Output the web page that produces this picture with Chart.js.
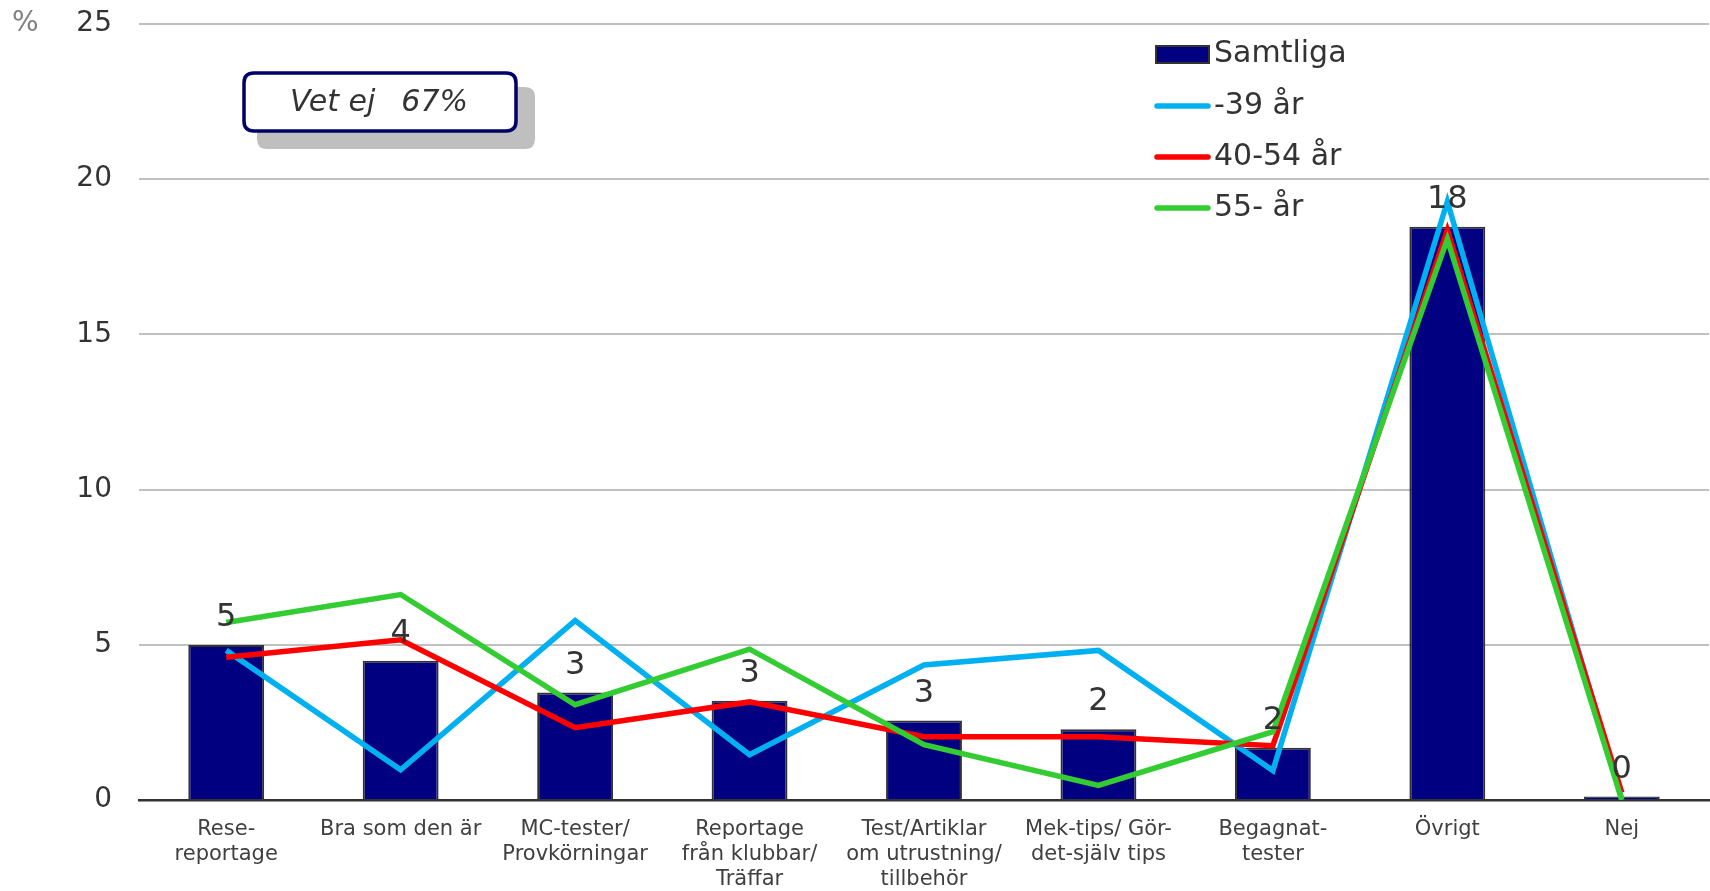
<!DOCTYPE html>
<html>
<head>
<meta charset="utf-8">
<script src="https://cdn.jsdelivr.net/npm/chart.js@4.4.1/dist/chart.umd.min.js"></script>
<style>
  html, body { margin: 0; padding: 0; background: #ffffff; }
  #wrap { width: 1710px; height: 891px; position: relative; }
</style>
</head>
<body>
<div id="wrap"><canvas id="c" width="1710" height="891"></canvas></div>
<script>
const categories = [
  ["Rese-", "reportage"],
  ["Bra som den är"],
  ["MC-tester/", "Provkörningar"],
  ["Reportage", "från klubbar/", "Träffar"],
  ["Test/Artiklar", "om utrustning/", "tillbehör"],
  ["Mek-tips/ Gör-", "det-själv tips"],
  ["Begagnat-", "tester"],
  ["Övrigt"],
  ["Nej"]
];
const samtliga = [4.99, 4.49, 3.46, 3.2, 2.56, 2.28, 1.68, 18.47, 0.11];
const age39 = [4.82, 0.97, 5.78, 1.46, 4.35, 4.82, 0.95, 19.28, 0.03];
const age40_54 = [4.6, 5.16, 2.33, 3.16, 2.04, 2.04, 1.75, 18.36, 0.24];
const age55 = [5.72, 6.62, 3.07, 4.86, 1.78, 0.47, 2.2, 18.07, 0.0];
const seriesNames = ["Samtliga", "-39 år", "40-54 år", "55- år"];
const yTicks = [0, 5, 10, 15, 20, 25];
const noteLabel = "Vet ej";
const noteValue = "67%";

const FONT = "'DejaVu Sans', Verdana, sans-serif";
const colors = { bar: "#000080", barBorder: "#333333", blue: "#00b0f0", red: "#ff0000", green: "#33cc33" };

const overlay = {
  id: "overlay",
  afterDatasetsDraw(chart) {
    const ctx = chart.ctx;
    const meta = chart.getDatasetMeta(0);
    ctx.save();
    ctx.fillStyle = "#333333";
    ctx.font = "32px " + FONT;
    ctx.textAlign = "center";
    ctx.textBaseline = "alphabetic";
    meta.data.forEach((el, i) => {
      ctx.fillText(String(Math.round(samtliga[i])), el.x, el.y - 19);
    });
    ctx.restore();
  },
  afterDraw(chart) {
    const ctx = chart.ctx;
    ctx.save();
    ctx.fillStyle = "#808080";
    ctx.font = "28px " + FONT;
    ctx.textAlign = "left";
    ctx.textBaseline = "middle";
    ctx.fillText("%", 12, chart.scales.y.getPixelForValue(25));

    function rr(x, y, w, h, r) {
      ctx.beginPath();
      ctx.moveTo(x + r, y);
      ctx.lineTo(x + w - r, y);
      ctx.quadraticCurveTo(x + w, y, x + w, y + r);
      ctx.lineTo(x + w, y + h - r);
      ctx.quadraticCurveTo(x + w, y + h, x + w - r, y + h);
      ctx.lineTo(x + r, y + h);
      ctx.quadraticCurveTo(x, y + h, x, y + h - r);
      ctx.lineTo(x, y + r);
      ctx.quadraticCurveTo(x, y, x + r, y);
      ctx.closePath();
    }
    ctx.fillStyle = "#bfbfbf";
    rr(257, 87, 278, 62, 10);
    ctx.fill();
    ctx.fillStyle = "#ffffff";
    ctx.strokeStyle = "#000066";
    ctx.lineWidth = 3.5;
    rr(244, 73, 272, 58, 10);
    ctx.fill();
    ctx.stroke();
    ctx.fillStyle = "#333333";
    ctx.font = "italic 30px " + FONT;
    ctx.textBaseline = "middle";
    ctx.textAlign = "left";
    ctx.fillText(noteLabel, 290, 103);
    ctx.textAlign = "right";
    ctx.fillText(noteValue, 468, 103);

    const lx = 1156, lw = 53, tx = 1214;
    const ys = [54, 106, 157, 208];
    ctx.textAlign = "left";
    ctx.textBaseline = "middle";
    ctx.font = "30px " + FONT;
    ctx.fillStyle = colors.bar;
    ctx.fillRect(lx, ys[0] - 8, lw, 17);
    ctx.strokeStyle = "#333333";
    ctx.lineWidth = 2;
    ctx.strokeRect(lx, ys[0] - 8, lw, 17);
    const lc = [colors.blue, colors.red, colors.green];
    ctx.lineCap = "round";
    for (let i = 1; i < 4; i++) {
      ctx.strokeStyle = lc[i - 1];
      ctx.lineWidth = 5.5;
      ctx.beginPath();
      ctx.moveTo(lx + 1, ys[i]);
      ctx.lineTo(lx + lw - 1, ys[i]);
      ctx.stroke();
    }
    ctx.fillStyle = "#333333";
    for (let i = 0; i < 4; i++) ctx.fillText(seriesNames[i], tx, ys[i]);
    ctx.restore();
  }
};

new Chart(document.getElementById("c"), {
  type: "bar",
  data: {
    labels: categories,
    datasets: [
      { type: "bar", label: seriesNames[0], data: samtliga, backgroundColor: colors.bar, borderColor: colors.barBorder, borderWidth: 2, barPercentage: 0.435, categoryPercentage: 1, order: 4 },
      { type: "line", label: seriesNames[1], data: age39, borderColor: colors.blue, borderWidth: 5.5, pointRadius: 0, tension: 0, fill: false, order: 3 },
      { type: "line", label: seriesNames[2], data: age40_54, borderColor: colors.red, borderWidth: 5.5, pointRadius: 0, tension: 0, fill: false, order: 2 },
      { type: "line", label: seriesNames[3], data: age55, borderColor: colors.green, borderWidth: 5.5, pointRadius: 0, tension: 0, fill: false, order: 1 }
    ]
  },
  options: {
    responsive: false,
    animation: false,
    devicePixelRatio: 1,
    layout: { padding: { top: 24, right: 1, left: 0, bottom: 0 } },
    plugins: { legend: { display: false }, tooltip: { enabled: false } },
    scales: {
      x: {
        grid: { display: false, drawTicks: false },
        border: { display: true, color: "#333333", width: 2.5 },
        ticks: { color: "#404040", font: { family: FONT, size: 21 }, maxRotation: 0, minRotation: 0, autoSkip: false, padding: 17, lineHeight: 1.3 },
        afterFit(s) { s.height = 91; s.paddingLeft = 0; s.paddingRight = 0; }
      },
      y: {
        min: 0, max: 25,
        afterBuildTicks(s) { s.ticks = yTicks.map(v => ({ value: v })); },
        grid: { color: "#c0c0c0", lineWidth: 2, drawTicks: false },
        border: { display: false },
        ticks: { color: "#333333", font: { family: FONT, size: 28 }, padding: 27 },
        afterFit(s) { s.width = 139; s.paddingTop = 0; s.paddingBottom = 0; }
      }
    }
  },
  plugins: [overlay]
});
</script>
</body>
</html>
